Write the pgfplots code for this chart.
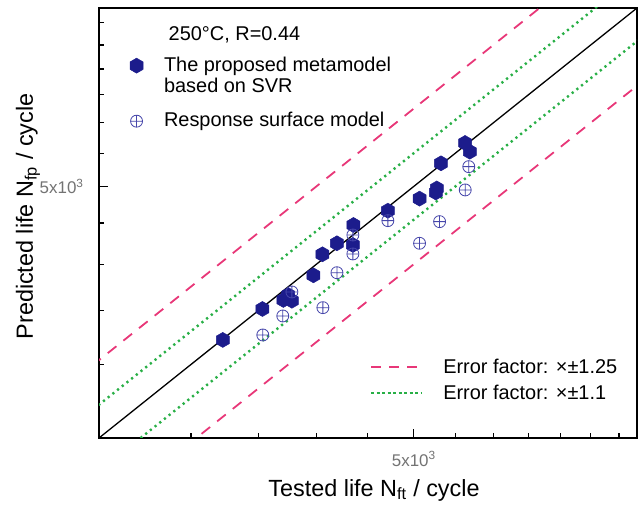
\documentclass[border=0pt]{standalone}
\usepackage{fontspec}
\setmainfont{Liberation Sans}
\usepackage{pgfplots}
\pgfplotsset{compat=1.18}
\usetikzlibrary{plotmarks}

\definecolor{svrblue}{RGB}{28,28,140}
\definecolor{rsmblue}{RGB}{70,70,170}
\definecolor{errpink}{RGB}{232,55,120}
\definecolor{errgreen}{RGB}{40,175,70}

\pgfdeclareplotmark{hexagon*}{%
  \pgfpathmoveto{\pgfqpointpolar{90}{\pgfplotmarksize}}%
  \pgfpathlineto{\pgfqpointpolar{150}{\pgfplotmarksize}}%
  \pgfpathlineto{\pgfqpointpolar{210}{\pgfplotmarksize}}%
  \pgfpathlineto{\pgfqpointpolar{270}{\pgfplotmarksize}}%
  \pgfpathlineto{\pgfqpointpolar{330}{\pgfplotmarksize}}%
  \pgfpathlineto{\pgfqpointpolar{30}{\pgfplotmarksize}}%
  \pgfpathclose
  \pgfusepathqfillstroke
}

\pgfplotstableread{
x y
3227 3219
3534 3518
3708 3610
3781 3602
3749 3662
3973 3875
4055 4115
4192 4247
4354 4476
4348 4227
4711 4663
5066 4827
5270 4970
5258 4913
5321 5342
5623 5663
5684 5523
}\svrdata

\pgfplotstableread{
x y
3537 3265
3703 3448
3781 3694
4059 3531
4192 3904
4348 4119
4348 4349
4711 4532
5066 4247
5304 4519
5625 4949
5671 5291
}\rsmdata

\begin{document}
\begin{tikzpicture}
\useasboundingbox (0,0) rectangle (640bp,508bp);
\begin{axis}[
  at={(99bp,70bp)}, anchor=south west,
  width=538bp, height=430bp, scale only axis,
  xmode=log, ymode=log,
  xmin=2430, xmax=8340, ymin=2430, ymax=8340,
  xtick={5000}, ytick={5000},
  xticklabels={5x10\textsuperscript{3}},
  yticklabels={5x10\textsuperscript{3}},
  minor xtick={3000,3500,4000,4500,5500,6000,6500,7000,7500,8000},
  minor ytick={3000,3500,4000,4500,5500,6000,6500,7000,7500,8000},
  tick pos=left, tick align=inside,
  major tick length=9bp, minor tick length=5bp,
  every tick/.style={black, line width=1.2bp},
  axis line style={line width=1.6bp},
  ticklabel style={font=\fontsize{17}{19}\selectfont, text=black!55},
  xticklabel style={yshift=-10bp},
  yticklabel style={xshift=-12bp},
  xlabel={Tested life N\textsubscript{ft} / cycle},
  ylabel={Predicted life N\textsubscript{fp} / cycle},
  label style={font=\fontsize{23.5}{27}\selectfont},
  xlabel style={at={(axis description cs:0.511,-0.121)}, anchor=center},
  ylabel style={at={(axis description cs:-0.132,0.515)}, anchor=center},
  legend style={draw=none, fill=none, font=\fontsize{20}{22}\selectfont,
    at={(axis description cs:0.048,0.893)}, anchor=north west,
    nodes={inner sep=0pt, text height=15bp, text depth=4bp}, row sep=2bp,
    /tikz/every odd column/.append style={column sep=21bp}},
  legend cell align=left,
]
\addplot[black, line width=1.3bp, forget plot] coordinates {(2000,2000) (10000,10000)};
\addplot[errpink, line width=1.8bp, dash pattern=on 11bp off 9bp, forget plot] coordinates {(2000,2500) (10000,12500)};
\addplot[errpink, line width=1.8bp, dash pattern=on 11bp off 9bp, forget plot] coordinates {(2000,1600) (10000,8000)};
\addplot[errgreen, line width=2.4bp, dash pattern=on 2.2bp off 3.8bp, forget plot] coordinates {(2000,2200) (10000,11000)};
\addplot[errgreen, line width=2.4bp, dash pattern=on 2.2bp off 3.8bp, forget plot] coordinates {(2000,1818.18) (10000,9090.91)};
\addplot[only marks, mark=hexagon*, mark size=7.5bp, mark options={fill=svrblue, draw=svrblue, line width=0.5bp}] table[x=x,y=y] {\svrdata};
\addlegendentry{The proposed metamodel}
\addlegendimage{legend image code/.code={\path[draw=none, fill=none] (0bp,-23bp) -- (0bp,0bp);}}
\addlegendentry{based on SVR}
\addplot[only marks, mark=oplus, mark size=6bp, mark options={draw=rsmblue, line width=0.8bp}] table[x=x,y=y] {\rsmdata};
\addlegendentry{Response surface model}
\node[anchor=west, font=\fontsize{20}{22}\selectfont] at (axis description cs:0.123,0.937) {250°C, R=0.44};
\end{axis}
\begin{axis}[
  at={(99bp,70bp)}, anchor=south west,
  width=538bp, height=430bp, scale only axis,
  hide axis, xmin=0, xmax=1, ymin=0, ymax=1,
  legend style={draw=none, fill=none, font=\fontsize{20}{22}\selectfont,
    at={(axis description cs:0.498,0.194)}, anchor=north west, row sep=6bp,
    /tikz/every odd column/.append style={column sep=18bp}},
  legend cell align=left,
  legend image code/.code={\draw[#1] (0bp,0bp) -- (51bp,0bp);},
]
\addlegendimage{errpink, line width=1.8bp, dash pattern=on 10bp off 8bp}
\addlegendentry{Error factor: ×±1.25}
\addlegendimage{errgreen, line width=2.2bp, dash pattern=on 3bp off 2.5bp}
\addlegendentry{Error factor: ×±1.1}
\end{axis}
\end{tikzpicture}
\end{document}
